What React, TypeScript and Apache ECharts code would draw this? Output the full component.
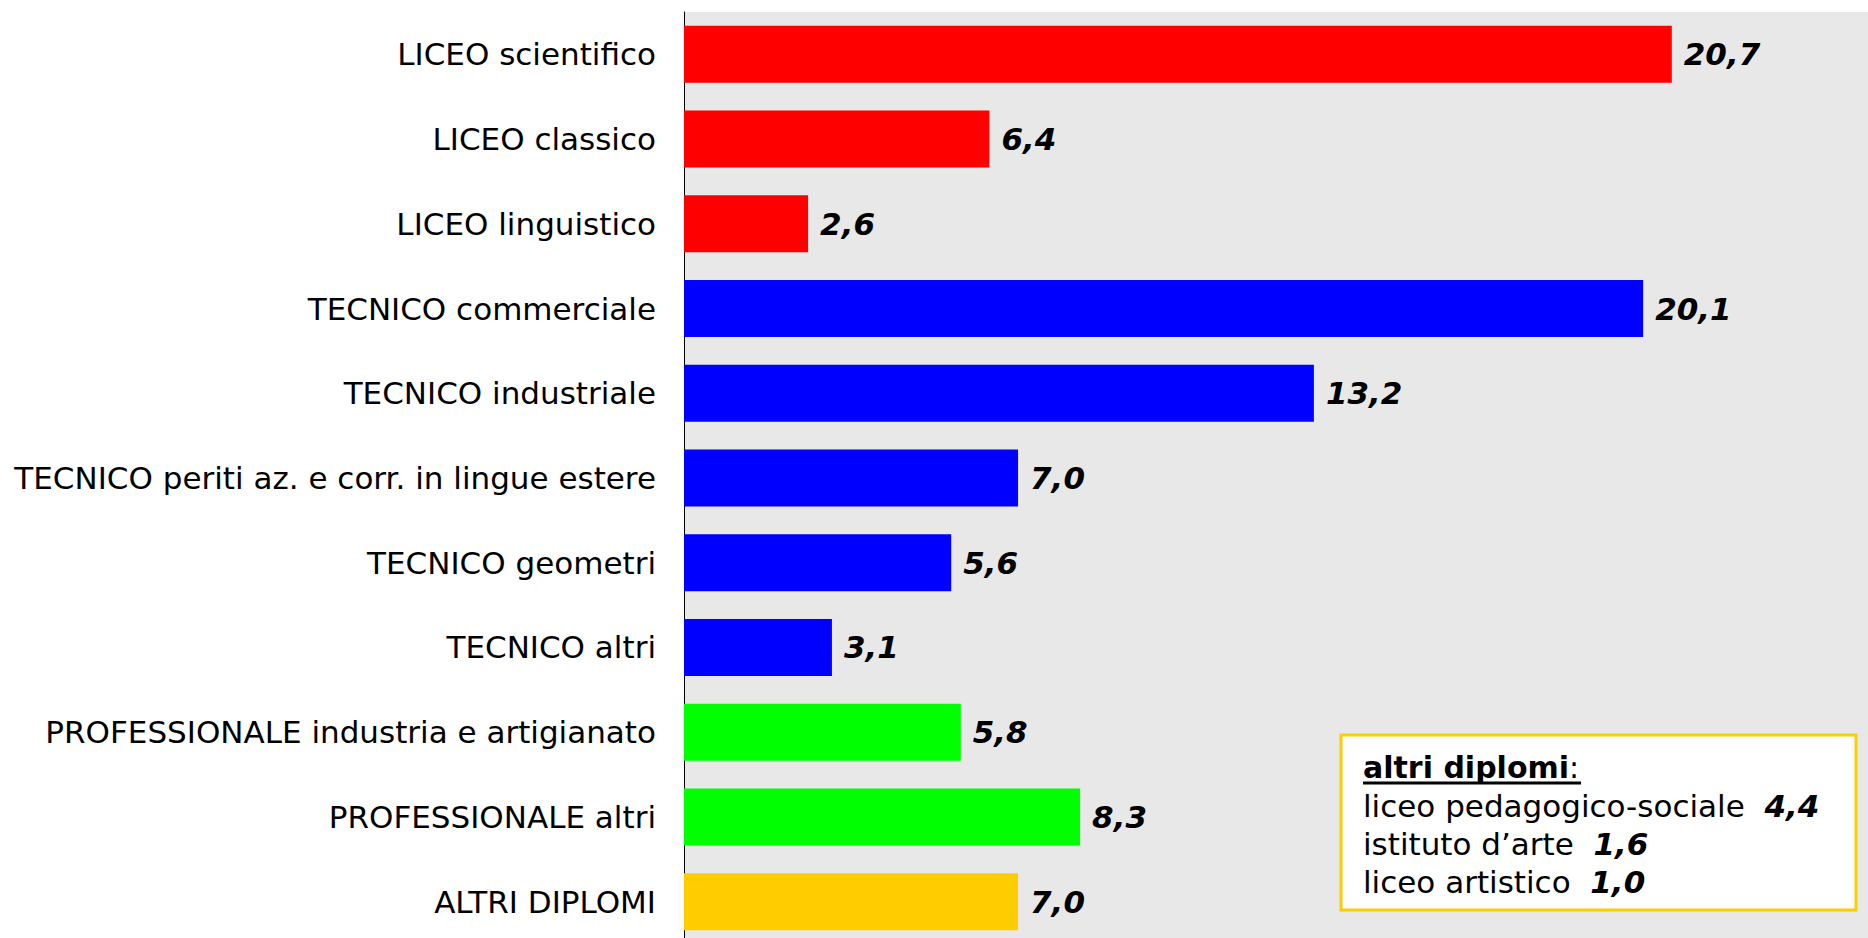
import React, { useEffect, useRef } from "react";
import * as echarts from "echarts";

const categories = [
  "LICEO scientifico",
  "LICEO classico",
  "LICEO linguistico",
  "TECNICO commerciale",
  "TECNICO industriale",
  "TECNICO periti az. e corr. in lingue estere",
  "TECNICO geometri",
  "TECNICO altri",
  "PROFESSIONALE industria e artigianato",
  "PROFESSIONALE altri",
  "ALTRI DIPLOMI",
];
const values = [20.7, 6.4, 2.6, 20.1, 13.2, 7.0, 5.6, 3.1, 5.8, 8.3, 7.0];
const groups = ["liceo", "liceo", "liceo", "tecnico", "tecnico", "tecnico", "tecnico", "tecnico", "prof", "prof", "altri"];
const groupColors: Record<string, string> = {
  liceo: "#FF0000",
  tecnico: "#0000FF",
  prof: "#00FF00",
  altri: "#FFCC00",
};
const boxTitle = "altri diplomi";
const boxItems = ["liceo pedagogico-sociale", "istituto d\u2019arte", "liceo artistico"];
const boxValues = [4.4, 1.6, 1.0];

const FONT = "'DejaVu Sans', Verdana, sans-serif";
const fmt = (v: number) => v.toFixed(1).replace(".", ",");

export default function App() {
  const ref = useRef<HTMLDivElement>(null);
  useEffect(() => {
    if (!ref.current) return;
    const chart = echarts.init(ref.current, null, { renderer: "svg" });
    const boxLineY = [806, 844, 882];
    chart.setOption({
      animation: false,
      backgroundColor: "#FFFFFF",
      grid: {
        left: 684,
        top: 12,
        width: 1193,
        height: 932,
        outerBoundsMode: "none",
        containLabel: false,
        show: true,
        backgroundColor: "#E8E8E8",
        borderWidth: 0,
      },
      xAxis: {
        type: "value",
        min: 0,
        max: 25,
        show: false,
        splitLine: { show: false },
      },
      yAxis: {
        type: "category",
        inverse: true,
        data: categories,
        axisLine: { show: true, lineStyle: { color: "#000000", width: 1 } },
        axisTick: { show: false },
        axisLabel: {
          margin: 28,
          fontFamily: FONT,
          fontSize: 31,
          color: "#000000",
        },
      },
      series: [
        {
          type: "bar",
          barWidth: 57,
          data: values.map((v, i) => ({
            value: v,
            itemStyle: { color: groupColors[groups[i]] },
          })),
          label: {
            show: true,
            position: "right",
            distance: 12,
            formatter: (p: any) => fmt(p.value),
            fontFamily: FONT,
            fontSize: 31,
            fontWeight: "bold",
            fontStyle: "italic",
            color: "#000000",
          },
        },
      ],
      graphic: [
        {
          type: "rect",
          shape: { x: 1341, y: 735, width: 515, height: 175 },
          style: { fill: "#FFFFFF", stroke: "#FFCC00", lineWidth: 3 },
          z: 10,
        },
        {
          type: "text",
          x: 1363,
          y: 767,
          z: 11,
          style: {
            text: `{t|${boxTitle}}{c|:}`,
            verticalAlign: "middle",
            rich: {
              t: { fontFamily: FONT, fontSize: 30, fontWeight: "bold", fill: "#000" },
              c: { fontFamily: FONT, fontSize: 30, fill: "#000" },
            },
          },
        },
        {
          type: "line",
          z: 11,
          shape: { x1: 1363, y1: 783, x2: 1581, y2: 783 },
          style: { stroke: "#000000", lineWidth: 3 },
        },
        ...boxItems.map((name, i) => ({
          type: "text",
          x: 1363,
          y: boxLineY[i],
          z: 11,
          style: {
            text: `{n|${name}  }{v|${fmt(boxValues[i])}}`,
            verticalAlign: "middle",
            rich: {
              n: { fontFamily: FONT, fontSize: 31, fill: "#000" },
              v: { fontFamily: FONT, fontSize: 31, fontWeight: "bold", fontStyle: "italic", fill: "#000" },
            },
          },
        })),
      ],
    });
    return () => chart.dispose();
  }, []);
  return (
    <div
      ref={ref}
      style={{ position: "fixed", left: 0, top: 0, width: 1868, height: 938 }}
    />
  );
}
